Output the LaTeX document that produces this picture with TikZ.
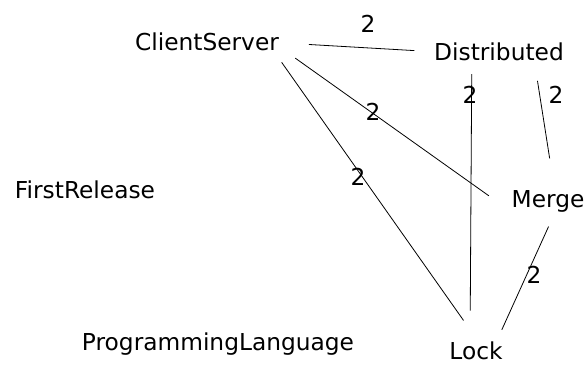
\documentclass[tikz,border=0pt]{standalone}
\usepackage{fontspec}
\setmainfont{DejaVu Sans}
\usepackage{tikz}
\usetikzlibrary{positioning,calc}
\tikzset{
  term/.style={inner sep=0pt,outer sep=0pt,anchor=base,
               text height=17pt,text depth=5pt},
  weight/.style={inner sep=0pt,anchor=base},
  link/.style={draw=black,line width=.8pt}
}

\begin{document}
\begin{tikzpicture}[x=1pt,y=-1pt,font=\fontsize{23.3}{27}\selectfont]
  \useasboundingbox (0,0) rectangle (585,365);
  % topics
  \node[term] (cs)    at (207,50)  {ClientServer};
  \node[term] (dist)  at (499,60)  {Distributed};
  \node[term] (first) at (85,198)  {FirstRelease};
  \node[term] (merge) at (548,207) {Merge};
  \node[term] (prog)  at (218,350) {ProgrammingLanguage};
  \node[term,text depth=0pt] (lock) at (476,359.5) {Lock};
  % weights
  \node[weight] (w1) at (368,32)  {2};
  \node[weight] (w2) at (373,120) {2};
  \node[weight] (w3) at (358,185) {2};
  \node[weight] (w4) at (470,103) {2};
  \node[weight] (w5) at (556,103) {2};
  \node[weight] (w6) at (534,283) {2};
  % links
  \draw[link,shorten <=30pt,shorten >=20pt] (cs.1.5) -- (dist.178.5);
  \draw[link,shorten <=20pt,shorten >=28pt] (cs.-2) -- (merge.south west);
  \draw[link,shorten <=9pt,shorten >=27pt] (cs.-9.3) -- (lock.70.6);
  \draw[link,shorten <=9pt,shorten >=32pt] (dist.-158.6) -- (lock.125.2);
  \draw[link,shorten <=16pt,shorten >=32pt] (dist.-17.2) -- (merge.59.4);
  \draw[link,shorten <=16pt,shorten >=14pt] (merge.-57.2) -- (lock.23.7);
\end{tikzpicture}
\end{document}
